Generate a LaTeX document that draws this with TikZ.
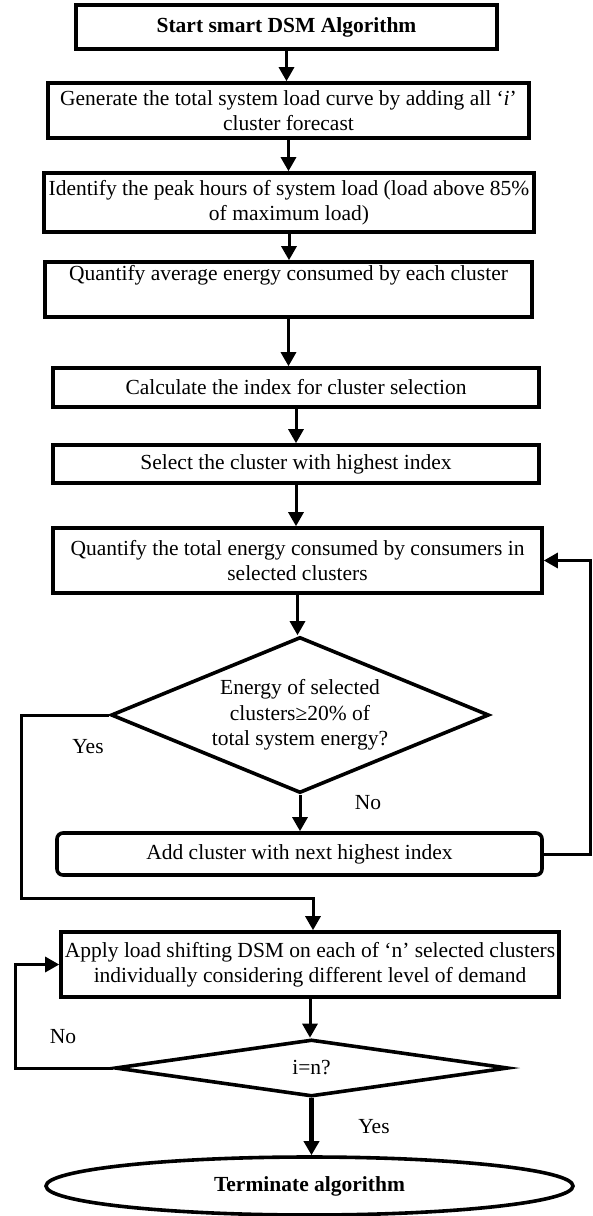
\documentclass[tikz,border=0pt]{standalone}
\usepackage{fontspec}
\setmainfont{Liberation Serif}
\usetikzlibrary{arrows.meta,shapes.geometric,calc}
\definecolor{DsmInk}{RGB}{0,0,0}
\newcommand{\dsmfont}{\fontsize{21.5}{25.5}\selectfont}
\tikzset{
  dsm/box/.style={
    draw=DsmInk,
    line width=3.6pt,
    fill=white,
    align=center,
    text=DsmInk,
    inner xsep=2pt,
    inner ysep=2pt,
    font=\dsmfont
  },
  dsm/boldbox/.style={dsm/box, font=\dsmfont\bfseries},
  dsm/roundbox/.style={dsm/box, rounded corners=6pt},
  dsm/decision/.style={
    diamond,
    draw=DsmInk,
    line width=3.6pt,
    fill=white,
    align=center,
    text=DsmInk,
    inner sep=0pt,
    font=\dsmfont
  },
  dsm/terminal/.style={
    ellipse,
    draw=DsmInk,
    line width=3.6pt,
    fill=white,
    align=center,
    text=DsmInk,
    inner sep=0pt,
    font=\dsmfont\bfseries
  },
  dsm/arrow/.style={-{Triangle[length=14pt,width=15pt]}, line width=3pt, draw=DsmInk},
  dsm/thickarrow/.style={dsm/arrow, line width=4.6pt},
  dsm/label/.style={font=\dsmfont, text=DsmInk}
}
\begin{document}
\begin{tikzpicture}[x=1pt,y=-1pt]
  \useasboundingbox (0,0) rectangle (593,1216);
  % main column
  \node[dsm/boldbox,minimum width=421pt,minimum height=44pt] (start) at (286.5,27) {Start smart DSM Algorithm};
  \node[dsm/box,minimum width=481pt,minimum height=55pt] (gen) at (288.5,110.5) {Generate the total system load curve by adding all ‘\textit{i}’\\ cluster forecast};
  \node[dsm/box,minimum width=490pt,minimum height=59pt,inner xsep=0pt] (peak) at (289,202.5) {Identify the peak hours of system load (load above 85\%\\ of maximum load)};
  \node[dsm/box,minimum width=487pt,minimum height=55pt] (avg) at (288.5,289.5) {Quantify average energy consumed by each cluster\\ \strut};
  \node[dsm/box,minimum width=486pt,minimum height=39pt] (index) at (296,387.5) {Calculate the index for cluster selection};
  \node[dsm/box,minimum width=486pt,minimum height=38pt] (select) at (296,464) {Select the cluster with highest index};
  \node[dsm/box,minimum width=489pt,minimum height=65pt] (total) at (297.5,560.5) {Quantify the total energy consumed by consumers in\\ selected clusters};
  \node[dsm/decision,minimum width=378pt,minimum height=156pt,aspect=2.42] (share) at (300,715) {Energy of selected\\ clusters≥20\% of\\ total system energy?};
  \node[dsm/roundbox,minimum width=485pt,minimum height=42pt] (add) at (299.5,854) {Add cluster with next highest index};
  \node[dsm/box,minimum width=498pt,minimum height=65pt,inner xsep=0pt] (shift) at (310,964.5) {Apply load shifting DSM on each of ‘n’ selected clusters\\ individually considering different level of demand};
  \node[dsm/decision,minimum width=393pt,minimum height=57pt,aspect=6] (check) at (311.5,1068) {i=n?};
  \node[dsm/terminal,minimum width=527pt,minimum height=58pt] (stop) at (309.5,1186) {Terminate algorithm};

  % loop corners
  \coordinate (loopR) at (590,0);
  \coordinate (yesL) at (21,898);
  \coordinate (noL) at (15,0);

  \draw[dsm/arrow] (start.south) -- (start.south |- gen.north);
  \draw[dsm/arrow] (gen.south) -- (gen.south |- peak.north);
  \draw[dsm/arrow] (peak.south) -- (peak.south |- avg.north);
  \draw[dsm/arrow] (avg.south) -- (avg.south |- index.north);
  \draw[dsm/arrow] (index.south) -- (index.south |- select.north);
  \draw[dsm/arrow] (select.south) -- (select.south |- total.north);
  \draw[dsm/arrow] (total.south) -- (total.south |- share.north);
  \draw[dsm/arrow] (share.south) -- (share.south |- add.north);
  \draw[dsm/arrow] (add.east) -- (add.east -| loopR) |- (total.east);
  \draw[dsm/arrow] (share.west) -| (yesL) -| ([xshift=3pt]shift.north);
  \draw[dsm/arrow] (shift.south) -- (shift.south |- check.north);
  \draw[dsm/arrow] (check.west) -- (check.west -| noL) |- (shift.west);
  \draw[dsm/thickarrow] (check.south) -- (check.south |- stop.north);

  \node[dsm/label] (yesA) at (88,747) {Yes};
  \node[dsm/label] (noA) at (368,803) {No};
  \node[dsm/label] (noB) at (63,1037) {No};
  \node[dsm/label] (yesB) at (374,1127) {Yes};
\end{tikzpicture}
\end{document}
